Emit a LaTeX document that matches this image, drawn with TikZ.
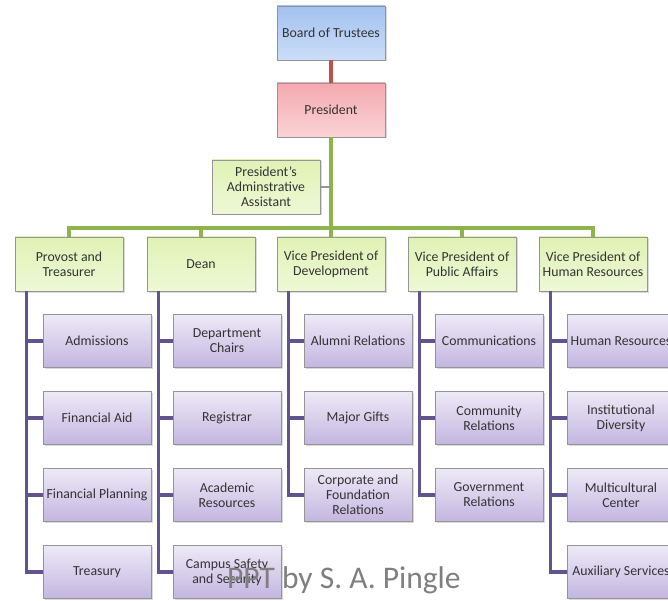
\documentclass[tikz,border=0pt]{standalone}
\usepackage{fontspec}
\setmainfont{Carlito}
\usetikzlibrary{shadows}
\definecolor{bordgris}{HTML}{959595}
\definecolor{texte}{HTML}{333333}
\definecolor{bleuhaut}{HTML}{A3C1F0}
\definecolor{bleubas}{HTML}{CBDDF8}
\definecolor{rosehaut}{HTML}{F3A9AF}
\definecolor{rosebas}{HTML}{FBD3D6}
\definecolor{verthaut}{HTML}{E0F2B4}
\definecolor{vertbas}{HTML}{EEF8D6}
\definecolor{mauvehaut}{HTML}{EEE9F7}
\definecolor{mauvebas}{HTML}{C3B6E0}
\definecolor{traitvert}{HTML}{8DB34A}
\definecolor{traitmauve}{HTML}{62538F}
\definecolor{traitrouge}{HTML}{C0504D}
\definecolor{filgris}{HTML}{7F7F7F}

\begin{document}
\begin{tikzpicture}[x=1pt,y=-1pt]
		% STYLES
		\tikzstyle{boite} = [draw=bordgris, line width=0.8pt, minimum width=108pt, minimum height=54pt,
			inner sep=1pt, align=center, text=texte, font=\fontsize{13.8}{15}\selectfont,
			drop shadow={shadow xshift=1.5pt, shadow yshift=-1.5pt, opacity=0.3}]
		\tikzstyle{bleu} = [boite, top color=bleuhaut, bottom color=bleubas]
		\tikzstyle{rose} = [boite, top color=rosehaut, bottom color=rosebas]
		\tikzstyle{vert} = [boite, top color=verthaut, bottom color=vertbas]
		\tikzstyle{mauve} = [boite, minimum height=53pt, top color=mauvehaut, bottom color=mauvebas]
		\tikzstyle{lignerouge} = [line width=3.5pt, draw=traitrouge]
		\tikzstyle{lignevert} = [line width=3.5pt, draw=traitvert]
		\tikzstyle{lignemauve} = [line width=3.5pt, draw=traitmauve]
		\tikzstyle{lienfin} = [line width=1.5pt, draw=bordgris]
		\tikzstyle{filigrane} = [text=filgris, font=\fontsize{31.5}{31.5}\selectfont, inner sep=0pt]

		% CADRE
		\clip (0,0) rectangle (668,601);

		% DIRECTION
		\node[bleu] (conseil) at (331,33) {Board of Trustees};
		\node[rose] (president) at (331,110) {President};
		\node[vert] (assistant) at (266,187) {President's\\Adminstrative\\Assistant};
		\coordinate (barre) at (331,228);

		% VICE-PRESIDENTS
		\foreach \nom/\x/\titre in {provost/69/{Provost and\\Treasurer}, dean/201/Dean,
				dev/331/{Vice President of\\Development}, public/462/{Vice President of\\Public Affairs},
				rh/593/{Vice President of\\Human Resources}}
			\node[vert] (\nom) at (\x,264) {\titre};

		% SERVICES
		\foreach \titre [count=\i] in {Admissions, Financial Aid, Financial Planning, Treasury}
			\node[mauve] (provost-\i) at (97,{264+77*\i}) {\titre};
		\foreach \titre [count=\i] in {{Department\\Chairs}, Registrar, {Academic\\Resources}, {Campus Safety\\and Security}}
			\node[mauve] (dean-\i) at (227,{264+77*\i}) {\titre};
		\foreach \titre [count=\i] in {Alumni Relations, Major Gifts, {Corporate and\\Foundation\\Relations}}
			\node[mauve] (dev-\i) at (358,{264+77*\i}) {\titre};
		\foreach \titre [count=\i] in {Communications, {Community\\Relations}, {Government\\Relations}}
			\node[mauve] (public-\i) at (489,{264+77*\i}) {\titre};
		\foreach \titre [count=\i] in {Human Resources, {Institutional\\Diversity}, {Multicultural\\Center}, Auxiliary Services}
			\node[mauve] (rh-\i) at (621,{264+77*\i}) {\titre};

		% LIENS
		\draw[lignerouge] (conseil) -- (president);
		\draw[lignevert] (president) -- (barre);
		\draw[lienfin] (assistant.east) -- (assistant.east -| barre);
		\foreach \nom in {provost, dean, dev, public, rh}
			\draw[lignevert] (\nom.north) |- (barre);
		\foreach \nom/\n in {provost/4, dean/4, dev/3, public/3, rh/4}
			\foreach \i in {1,...,\n}
				\draw[lignemauve] ([xshift=12pt]\nom.south west) |- (\nom-\i.west);

		% FILIGRANE
		\node[filigrane, anchor=base west] (credit) at (227,588) {PPT by S. A. Pingle};
\end{tikzpicture}
\end{document}
